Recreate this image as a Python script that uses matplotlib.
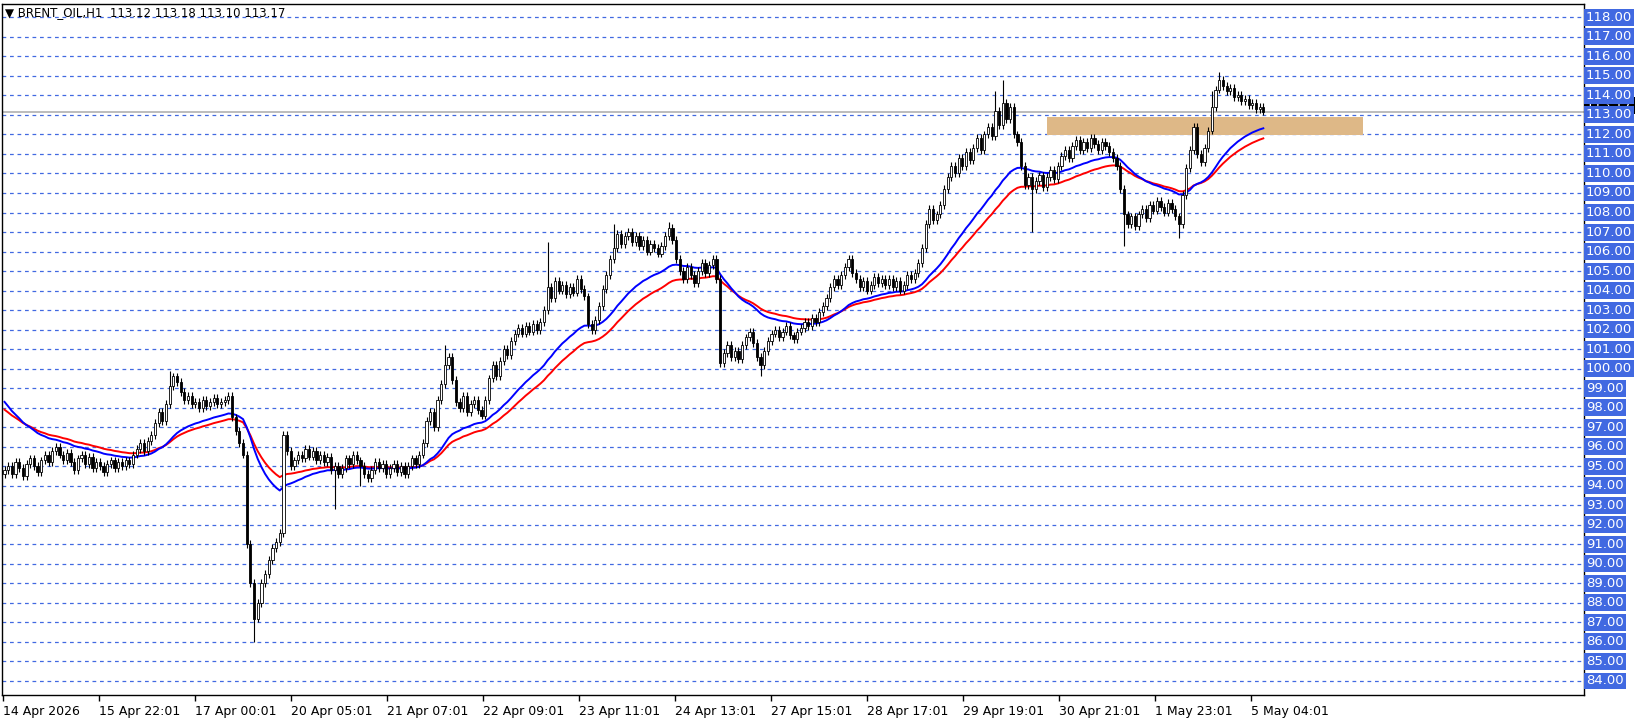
import matplotlib
matplotlib.use("Agg")
import matplotlib.pyplot as plt
from matplotlib.patches import Rectangle
import numpy as np
import pandas as pd

closes = [
94.8,95.0,94.6,95.2,94.9,94.5,95.1,95.4,95.0,94.7,95.3,95.6,95.2,95.8,96.0,95.6,95.3,95.7,95.2,94.8,
95.4,95.6,95.1,95.5,94.9,95.2,95.0,94.7,95.1,95.3,94.9,95.2,95.0,95.3,95.1,95.6,95.9,96.2,95.8,96.3,
96.6,97.2,97.8,97.3,98.2,99.1,99.6,99.3,98.8,98.4,98.6,98.2,98.3,98.0,98.4,98.1,98.3,98.5,98.2,98.3,
98.4,98.6,97.5,96.8,96.2,95.6,91.0,89.0,87.2,88.0,89.0,89.5,90.2,90.8,91.1,91.6,96.6,95.8,95.0,95.3,
95.6,95.4,95.9,95.5,95.8,95.3,95.6,95.2,95.5,94.8,95.0,94.6,94.9,95.4,95.1,95.6,95.3,95.0,94.6,94.4,
94.8,95.2,94.9,95.1,94.6,94.9,95.1,94.7,95.0,94.6,95.0,95.4,95.1,95.6,96.2,97.3,97.8,97.0,98.4,99.2,
100.2,100.6,99.4,98.3,98.0,98.6,97.8,98.2,98.4,97.9,97.6,98.4,99.5,100.2,99.6,100.4,101.0,100.7,101.4,101.8,
102.1,101.8,102.2,101.9,102.3,102.0,102.4,103.0,104.2,103.6,104.5,104.0,104.3,103.8,104.2,103.9,104.6,104.1,103.7,102.3,
102.0,102.5,103.2,104.1,104.8,105.6,106.2,106.9,106.4,106.8,107.0,106.5,106.8,106.3,106.6,106.0,106.4,106.2,105.9,106.3,
106.8,107.2,106.6,105.6,105.0,104.6,105.2,104.8,104.4,105.0,105.4,104.9,105.3,105.6,104.6,100.3,100.8,101.2,100.6,100.9,
100.5,101.2,101.6,101.9,101.3,100.6,100.2,100.9,101.4,101.8,102.0,101.6,101.9,102.2,101.7,101.5,101.9,102.1,102.4,102.2,
102.6,102.4,102.9,103.2,103.6,104.2,104.6,104.3,104.8,105.2,105.6,104.9,104.6,104.2,104.5,104.0,104.3,104.7,104.4,104.6,
104.3,104.6,104.2,104.5,104.0,104.3,104.8,104.6,104.9,105.4,106.2,107.4,108.2,107.6,107.9,108.4,109.2,109.8,110.4,110.0,
110.8,110.4,111.1,110.7,111.3,111.8,111.2,112.0,112.4,111.9,113.2,112.5,113.6,112.8,113.4,112.0,111.6,110.4,109.4,109.8,
109.2,109.6,109.9,109.3,109.8,110.2,109.7,110.4,110.9,111.2,110.8,111.4,111.7,111.2,111.6,111.3,111.8,111.5,111.2,111.6,
111.4,111.1,110.8,110.4,109.2,107.9,107.4,107.8,107.3,107.9,108.2,107.7,108.4,108.1,108.6,108.3,108.0,108.5,108.2,107.8,
107.4,108.9,110.3,111.2,112.4,111.0,110.6,111.3,112.2,113.4,114.3,114.8,114.5,114.2,114.4,113.9,114.0,113.7,113.8,113.5,
113.6,113.3,113.4,113.17]
first_open = 94.6
wick_highs = {45: 99.9, 120: 101.2, 148: 106.5, 166: 107.4, 181: 107.5, 270: 114.2, 272: 114.8, 329: 114.2, 331: 115.2}
wick_lows = {68: 86.0, 90: 92.8, 206: 99.6, 280: 107.0, 305: 106.3, 320: 106.7, 97: 94.0}
xtick_labels = ["14 Apr 2026","15 Apr 22:01","17 Apr 00:01","20 Apr 05:01","21 Apr 07:01","22 Apr 09:01",
                "23 Apr 11:01","24 Apr 13:01","27 Apr 15:01","28 Apr 17:01","29 Apr 19:01","30 Apr 21:01",
                "1 May 23:01","5 May 04:01"]
zone_low, zone_high = 111.95, 112.9
last_price = 113.17

c = np.array(closes)
o = np.concatenate([[first_open], c[:-1]])
hi = np.maximum(o, c) + 0.2
lo = np.minimum(o, c) - 0.2
for k, v in wick_highs.items(): hi[k] = v
for k, v in wick_lows.items(): lo[k] = v
n = len(c)
idx = np.arange(n)
ema_fast = pd.Series(c).ewm(span=30, adjust=False).mean().values
ema_slow = pd.Series(c).ewm(span=42, adjust=False).mean().values
ema_fast = ema_fast + (98.3 - ema_fast[0]) * np.exp(-idx / 14)
ema_slow = ema_slow + (97.9 - ema_slow[0]) * np.exp(-idx / 20)

W, H = 1641, 719
fig = plt.figure(figsize=(W/100, H/100), dpi=100)
L, R, B, T = 2, 1584, 695, 4
ax = fig.add_axes([L/W, 1-B/H, (R-L)/W, (B-T)/H])
pxc = 3.67
x0 = 4.5
ax.set_xlim((L-x0)/pxc, (R-x0)/pxc)
ppu = 19.5
ax.set_ylim(84 - (B-681)/ppu, 118 + (17.3-T)/ppu)

for v in range(84, 119):
    ax.axhline(v, color="#4169E1", lw=0.9, ls=(0, (3, 3)), zorder=1)
ax.axhline(last_price, color="#b0b0b0", lw=1.2, zorder=1)

ax.add_patch(Rectangle(((1047-x0)/pxc, zone_low), (1363-1047)/pxc, zone_high-zone_low,
                       facecolor="#DEB887", edgecolor="none", zorder=2))

ax.plot(idx, ema_slow, color="red", lw=1.4, zorder=3)
ax.plot(idx, ema_fast, color="blue", lw=1.4, zorder=3)

ax.vlines(idx, lo, hi, color="black", lw=0.8, zorder=4)
bw = 0.6
for i in range(n):
    up = c[i] >= o[i]
    bot = min(o[i], c[i]); h = max(abs(c[i]-o[i]), 0.03)
    ax.add_patch(Rectangle((i-bw/2, bot), bw, h, facecolor="white" if up else "black",
                           edgecolor="black", lw=0.6, zorder=5))

ticks = [(3.3 + 96*k - x0)/pxc for k in range(len(xtick_labels))]
ax.set_xticks(ticks)
ax.set_xticklabels(xtick_labels, ha="left", fontsize=9)
ax.tick_params(axis="x", length=4, width=1, pad=3)
ax.set_yticks([])
for s in ax.spines.values():
    s.set_linewidth(1)

for v in range(84, 119):
    ax.text(1.0012, v, f"{v:.2f}", transform=ax.get_yaxis_transform(), ha="left", va="center",
            fontsize=9.5, color="white", zorder=6,
            bbox=dict(boxstyle="square,pad=0.15", facecolor="#4169E1", edgecolor="none"))
ax.text(1.0012, last_price + 0.3, f"{last_price:.2f}", transform=ax.get_yaxis_transform(), ha="left",
        va="center", fontsize=9.5, color="white", zorder=5,
        bbox=dict(boxstyle="square,pad=0.15", facecolor="black", edgecolor="none"))

ax.text(0.002, 0.997, "▼ BRENT_OIL,H1  113.12 113.18 113.10 113.17", transform=ax.transAxes,
        ha="left", va="top", fontsize=8.5)

fig.savefig("out.png", dpi=100)
